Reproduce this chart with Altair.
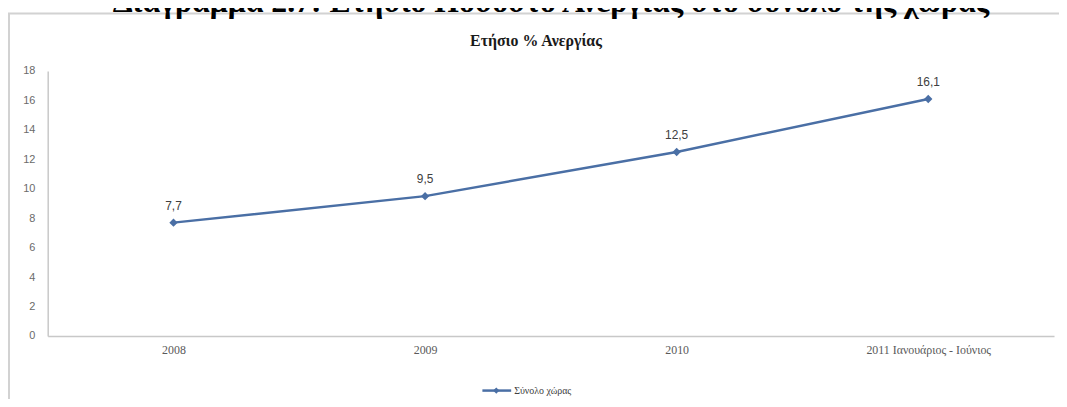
import altair as alt
import pandas as pd

categories = ["2008", "2009", "2010", "2011 Ιανουάριος - Ιούνιος"]
values = [7.7, 9.5, 12.5, 16.1]
y_ticks = [0, 2, 4, 6, 8, 10, 12, 14, 16, 18]
series_name = "Σύνολο χώρας"
chart_title = "Ετήσιο % Ανεργίας"
heading = "Διάγραμμα 2.7: Ετήσιο Ποσοστό Ανεργίας στο σύνολο της χώρας"

df = pd.DataFrame({
    "cat": categories,
    "val": values,
    "lab": [str(v).replace(".", ",") for v in values],
})

W, H = 1014, 267
LINE = "#4a6fa5"

x_enc = alt.X("cat:N", sort=categories, scale=alt.Scale(padding=0.5),
              axis=alt.Axis(title=None, labelAngle=0, ticks=False,
                            domainColor="#c8c8c8", domainWidth=1.5,
                            labelFont="Liberation Serif", labelFontSize=12,
                            labelColor="#5a5a5a", labelPadding=9))
y_enc = alt.Y("val:Q", scale=alt.Scale(domain=[0, 18], nice=False),
              axis=alt.Axis(title=None, values=y_ticks, ticks=False, grid=False,
                            labelOverlap=False, tickCount=10,
                            domainColor="#c8c8c8", domainWidth=1.5,
                            labelFont="Liberation Sans", labelFontSize=11,
                            labelColor="#6a6a6a", labelPadding=13))

base = alt.Chart(df)

frame = alt.Chart(pd.DataFrame({"k": [0]})).mark_rect(
    fillOpacity=0, stroke="#d2d2d2", strokeWidth=2
).encode(x=alt.value(-39), x2=alt.value(W + 30), y=alt.value(-58), y2=alt.value(H + 120))

line = base.mark_line(color=LINE, strokeWidth=2.5).encode(x=x_enc, y=y_enc)
pts = base.mark_point(shape="diamond", filled=True, color=LINE, size=70, opacity=1).encode(
    x=x_enc, y=y_enc)
labels = base.mark_text(dy=-17, font="Liberation Sans", fontSize=12, color="#404040").encode(
    x=x_enc, y=y_enc, text="lab:N")

tdf = pd.DataFrame({"t": [chart_title]})
title_mark = alt.Chart(tdf).mark_text(font="Liberation Serif", fontSize=16, fontWeight="bold",
                                      color="#1a1a1a", baseline="middle").encode(
    x=alt.value(492), y=alt.value(-30), text="t:N")

hdf = pd.DataFrame({"t": [heading]})
heading_mark = alt.Chart(hdf).mark_text(font="Liberation Serif", fontSize=32, fontWeight="bold",
                                        color="#000000", baseline="alphabetic").encode(
    x=alt.value(507), y=alt.value(-59), text="t:N")

ldf = pd.DataFrame({"t": [series_name]})
leg_line = alt.Chart(ldf).mark_rule(color=LINE, strokeWidth=2.5).encode(
    x=alt.value(438), x2=alt.value(467), y=alt.value(322))
leg_pt = alt.Chart(ldf).mark_point(shape="diamond", filled=True, color=LINE, size=40, opacity=1).encode(
    x=alt.value(452), y=alt.value(322))
leg_txt = alt.Chart(ldf).mark_text(align="left", baseline="middle", font="Liberation Serif",
                                   fontSize=10, color="#404040").encode(
    x=alt.value(470), y=alt.value(322), text="t:N")

chart = alt.layer(frame, line, pts, labels, title_mark, heading_mark, leg_line, leg_pt, leg_txt).properties(
    width=W, height=H,
    background="white",
    autosize=alt.AutoSizeParams(type="none"),
    padding={"left": 40, "top": 62, "right": 5, "bottom": 62},
).configure_view(strokeWidth=0, stroke="transparent")

chart.save("out.html", embed_options={"renderer": "svg", "actions": False})
